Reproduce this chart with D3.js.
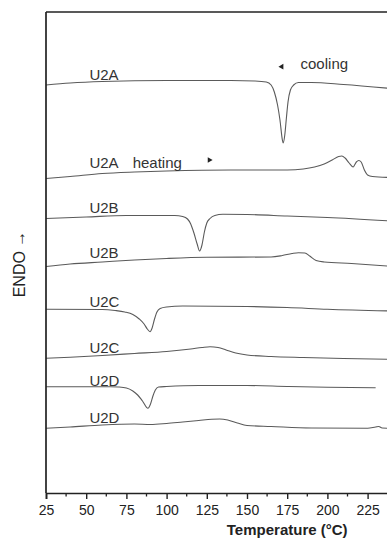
<!DOCTYPE html>
<html>
<head>
<meta charset="utf-8">
<script src="https://cdn.jsdelivr.net/npm/d3@7"></script>
<style>
  body { margin: 0; background: #fff; }
  svg { display: block; font-family: "Liberation Sans", Arial, sans-serif; }
</style>
</head>
<body>
<div id="chart"></div>
<script>
// --- Data (temperature in °C, heat flow in arbitrary units, endo up) ---
const xTicks = [25, 50, 75, 100, 125, 150, 175, 200, 225];
const xMinorTicks = [37.5, 62.5, 87.5, 112.5, 137.5, 162.5, 187.5, 212.5, 237.5];

const u2aCooling = [[25,408],[40,410],[60,411.5],[100,412.5],[140,412.5],[155,412],[162,411],[165,408],[167,401],[169,388],[170.5,373],[172,353],[172.5,350],[173.5,358],[174.5,375],[175.5,391],[177,403],[179,408],[182,410.5],[190,410.5],[210,408.5],[240,404.5]];
const u2aHeating = [[25,314.5],[40,316.5],[60,319.5],[80,321],[100,322],[140,323],[175,323],[185,324],[192,326],[198,329],[203,333],[207,336.5],[209,337],[211,335],[213.5,330],[216,326],[218,331],[219.5,332.5],[221,331],[223,323],[225,318],[228,316.5],[240,315.5]];
const u2bCooling = [[25,274.5],[50,276],[75,277.5],[105,277.5],[110,276.5],[113,274],[115,269],[117,260],[119,249],[120.5,242],[122,248],[123.5,261],[125,270],[127,274.5],[130,277.5],[135,278.7],[150,278.5],[175,277],[200,275.5],[240,272]];
const u2bHeating = [[25,226.5],[40,229],[60,231],[80,233],[100,234.5],[125,235.7],[165,236],[172,237.5],[178,239.5],[182,240.3],[186,240],[189,237],[193,232.5],[198,231],[215,229.5],[240,226.7]];
const u2cCooling = [[25,183.7],[60,183.5],[68,182.5],[74,181],[79,178.5],[83,174],[86,169],[88,164],[89.7,161.3],[91,165],[92.5,174],[94,181],[96,184.5],[100,186],[110,187],[150,186.5],[175,185.5],[200,183.7],[240,182]];
const u2cHeating = [[25,134.7],[40,135.7],[60,137.5],[80,139.5],[100,141.5],[115,144],[122,145.5],[127,146.3],[132,145.5],[137,143],[143,140],[150,138],[165,136.5],[185,135.5],[210,134.5],[240,133.6]];
const u2dCooling = [[25,106.3],[65,106.3],[70,106],[75,105],[79,102],[82,98],[85,92],[88.4,84.7],[90,89],[91.5,97],[93,103],[95,106],[100,106.5],[120,107.5],[150,107.5],[175,106.5],[200,105.7],[230,105.3]];
const u2dHeating = [[25,64.7],[40,66],[60,68],[80,69],[90,68.5],[100,69.5],[110,71],[120,72.5],[128,73.7],[133,74],[138,73],[144,70],[150,67.5],[165,66.5],[190,65],[225,64.7],[230,66],[232,66.5],[234,65],[240,64.7]];

const series = [u2aCooling, u2aHeating, u2bCooling, u2bHeating, u2cCooling, u2cHeating, u2dCooling, u2dHeating];

// curve labels: [text, temperature, value]
const curveLabels = [["U2A",52,413],["U2A",52,324.7],["U2B",52,279.7],["U2B",52,234.7],["U2C",52,186.3],["U2C",52,140],["U2D",52,107],["U2D",52,70]];
const notes = [["cooling",183.3,423.7],["heating",78.9,325]];
const arrows = [["left",171.6,426.3],["right",126.6,333]];

// --- Rendering ---
const width = 387, height = 539;
const margin = { top: 12, left: 46, bottom: 46 };

const svg = d3.select("#chart").append("svg")
    .attr("width", width)
    .attr("height", height);

const x = d3.scaleLinear()
    .domain([25, 250])
    .range([margin.left, margin.left + 225 * 1.608]);

const y = d3.scaleLinear()
    .domain([0, 481])
    .range([height - margin.bottom, margin.top]);

const line = d3.line()
    .x(d => x(d[0]))
    .y(d => y(d[1]))
    .curve(d3.curveMonotoneX);

series.forEach(s => {
    svg.append("path")
        .datum(s)
        .attr("fill", "none")
        .attr("stroke", "#5a5a5a")
        .attr("stroke-width", 1.1)
        .attr("d", line);
});

// frame: left and top
svg.append("line")
    .attr("x1", x(25)).attr("x2", x(25))
    .attr("y1", y(481)).attr("y2", y(0))
    .attr("stroke", "#222").attr("stroke-width", 1.7);
svg.append("line")
    .attr("x1", x(25)).attr("x2", width)
    .attr("y1", y(481)).attr("y2", y(481))
    .attr("stroke", "#222").attr("stroke-width", 1.5);

// bottom axis
const xAxis = svg.append("g")
    .attr("transform", `translate(0,${y(0)})`)
    .call(d3.axisBottom(x).tickValues(xTicks).tickSize(6).tickPadding(6).tickFormat(d3.format("d")));
xAxis.select(".domain").attr("stroke", "#222").attr("stroke-width", 1.7);
xAxis.selectAll(".tick line").attr("stroke", "#222").attr("stroke-width", 1.4);
xAxis.selectAll("text")
    .style("font-size", "14px")
    .attr("fill", "#222");

svg.append("g")
    .selectAll("line")
    .data(xMinorTicks)
    .join("line")
    .attr("x1", d => x(d)).attr("x2", d => x(d))
    .attr("y1", y(0)).attr("y2", y(0) + 3.5)
    .attr("stroke", "#222").attr("stroke-width", 1.3);

svg.append("text")
    .attr("x", x(175))
    .attr("y", 535)
    .attr("text-anchor", "middle")
    .style("font-size", "15px")
    .style("font-weight", "bold")
    .attr("fill", "#222")
    .text("Temperature (°C)");

svg.append("text")
    .attr("transform", `translate(25,${y(229)}) rotate(-90)`)
    .attr("text-anchor", "middle")
    .style("font-size", "16px")
    .attr("fill", "#222")
    .text("ENDO \u2192");

// curve labels
svg.append("g")
    .selectAll("text")
    .data(curveLabels)
    .join("text")
    .attr("x", d => x(d[1]))
    .attr("y", d => y(d[2]))
    .style("font-size", "15px")
    .attr("fill", "#333")
    .text(d => d[0]);

svg.append("g")
    .selectAll("text")
    .data(notes)
    .join("text")
    .attr("x", d => x(d[1]))
    .attr("y", d => y(d[2]))
    .style("font-size", "15px")
    .attr("fill", "#333")
    .text(d => d[0]);

svg.append("g")
    .selectAll("path")
    .data(arrows)
    .join("path")
    .attr("transform", d => `translate(${x(d[1])},${y(d[2])}) rotate(${d[0] === "left" ? -90 : 90})`)
    .attr("d", d3.symbol(d3.symbolTriangle, 14))
    .attr("fill", "#222");
</script>
</body>
</html>
